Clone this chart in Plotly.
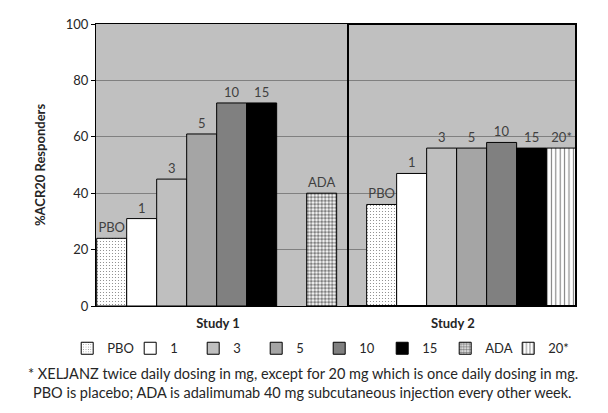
import plotly.graph_objects as go

# ---- data ----
studies = ["Study 1", "Study 2"]
study_pos = [0, 1]
label_pos = [0.005, 0.875]
series_names = ["PBO", "1", "3", "5", "10", "15", "20*", "ADA"]
legend_rank = [1, 2, 3, 4, 5, 6, 8, 7]
values = {
    "PBO": [24, 36],
    "1": [31, 47],
    "3": [45, 56],
    "5": [61, 56],
    "10": [72, 58],
    "15": [72, 56],
    "20*": [None, 56],
    "ADA": [40, None],
}
footnote = ["* XELJANZ twice daily dosing in mg, except for 20 mg which is once daily dosing in mg.",
            "PBO is placebo; ADA is adalimumab 40 mg subcutaneous injection every other week."]

# ---- styles ----
styles = {
    "PBO": dict(color="white", pattern=dict(shape=".", fgcolor="black", bgcolor="white", size=3, solidity=0.12)),
    "1": dict(color="white"),
    "3": dict(color="#BFBFBF"),
    "5": dict(color="#A5A5A5"),
    "10": dict(color="#808080"),
    "15": dict(color="#000000"),
    "20*": dict(color="white", pattern=dict(shape="|", fgcolor="black", bgcolor="white", size=4.4, solidity=0.25)),
    "ADA": dict(color="white", pattern=dict(shape=".", fgcolor="black", bgcolor="white", size=3.5, solidity=0.6)),
}

FONT = "Lato"
# page body has an 8px margin, so the figure is drawn 8px smaller and offset
W, H = 600, 405
fig = go.Figure()
for name, rank in zip(series_names, legend_rank):
    vals = values[name]
    st = styles[name]
    marker = dict(color=st["color"], line=dict(color="black", width=1))
    if "pattern" in st:
        marker["pattern"] = st["pattern"]
    fig.add_trace(go.Bar(
        x=study_pos, y=vals, name=name, legendrank=rank,
        marker=marker,
        text=[name if v is not None else "" for v in vals],
        textposition="outside", constraintext="none", cliponaxis=False,
        textfont=dict(family=FONT, size=13, color="#404040"),
        hoverinfo="skip",
    ))

fig.update_layout(
    width=W, height=H,
    margin=dict(l=88, r=32, t=16, b=107, autoexpand=False),
    paper_bgcolor="white", plot_bgcolor="#C0C0C0",
    barmode="group", bargap=0.1111, bargroupgap=0,
    font=dict(family=FONT, size=12, color="#262626"),
    legend=dict(orientation="h", x=-0.06, xanchor="left", y=-0.15, yanchor="middle",
                entrywidth=18, entrywidthmode="pixels", itemwidth=30,
                font=dict(family=FONT, size=13, color="#262626"), traceorder="normal"),
    showlegend=True,
)
fig.update_xaxes(range=[-0.447, 1.331], tickvals=label_pos, ticktext=studies, automargin=False,
                 tickfont=dict(family=FONT, size=13, color="#262626", weight="bold"),
                 ticklabelstandoff=5,
                 showline=True, linecolor="black", linewidth=1, mirror=True,
                 ticks="", showgrid=False, zeroline=False)
fig.update_yaxes(range=[0, 100], dtick=20, showgrid=True, gridcolor="#808080", gridwidth=1,
                 showline=True, linecolor="black", linewidth=1, ticks="outside", ticklen=4,
                 tickcolor="black", tickfont=dict(family=FONT, size=13, color="#262626"),
                 zeroline=False, automargin=False,
                 title=dict(text="%ACR20 Responders", standoff=17,
                            font=dict(family=FONT, size=13, color="#262626", weight="bold")))

# Study 2 panel frame
fig.add_shape(type="rect", xref="paper", yref="paper", x0=(348 - 96) / 480, x1=1, y0=0, y1=1,
              line=dict(color="black", width=2), fillcolor="rgba(0,0,0,0)", layer="above")

for i, line in enumerate(footnote):
    fig.add_annotation(text=line, xref="paper", yref="paper", x=0.431, y=-0.2376 - i * 0.0674,
                       xanchor="center", yanchor="middle", showarrow=False,
                       font=dict(family=FONT, size=14.5, color="#262626"))

fig.write_html("out.html")
